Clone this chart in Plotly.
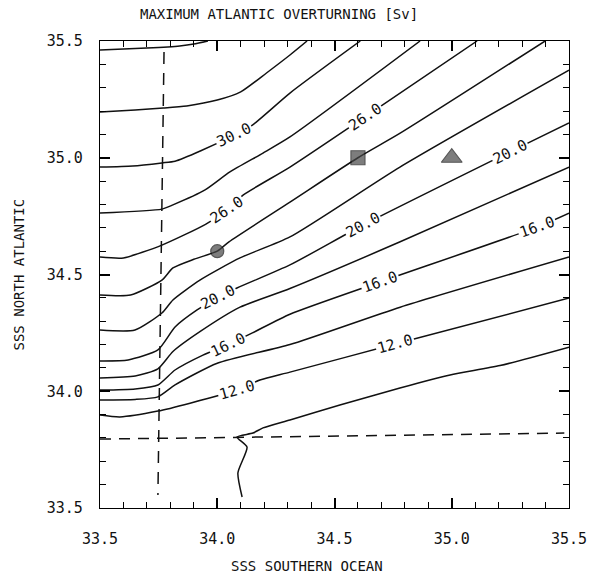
import math
import plotly.graph_objects as go

# Contour lines of maximum Atlantic overturning (Sv) in the
# (SSS Southern Ocean, SSS North Atlantic) plane, one polyline per level.
levels = [34, 32, 30, 28, 26, 24, 22, 20, 18, 16, 14, 12, 10]

c34_x = [33.5, 33.70, 33.84, 33.90, 33.96]
c34_y = [35.461, 35.470, 35.479, 35.487, 35.5]

c32_x = [33.5, 33.65, 33.77, 33.87, 34.0, 34.10, 34.21, 34.31, 34.383]
c32_y = [35.196, 35.205, 35.213, 35.222, 35.247, 35.282, 35.363, 35.440, 35.5]

c30_x = [33.5, 33.64, 33.764, 33.82, 33.93, 34.071, 34.15, 34.31, 34.61]
c30_y = [34.96, 34.965, 34.978, 34.985, 35.03, 35.097, 35.14, 35.277, 35.5]

c28_x = [33.5, 33.764, 33.811, 33.948, 34.054, 34.195, 34.31, 34.865]
c28_y = [34.763, 34.78, 34.798, 34.862, 34.939, 35.02, 35.089, 35.5]

c26_x = [33.5, 33.6, 33.764, 33.95, 34.04, 34.11, 34.31, 34.63, 35.108]
c26_y = [34.575, 34.571, 34.626, 34.715, 34.775, 34.84, 34.96, 35.175, 35.5]

c24_x = [33.5, 33.63, 33.764, 33.811, 33.90, 34.0, 34.05, 34.31, 34.6, 34.78, 35.398]
c24_y = [34.412, 34.412, 34.476, 34.528, 34.565, 34.6, 34.64, 34.81, 35.0, 35.105, 35.5]

c22_x = [33.5, 33.649, 33.764, 33.811, 33.926, 34.097, 34.31, 34.779, 35.5]
c22_y = [34.262, 34.262, 34.335, 34.391, 34.476, 34.571, 34.661, 34.96, 35.375]

c20_x = [33.5, 33.62, 33.747, 33.82, 33.914, 33.999, 34.084, 34.31, 34.622, 35.248, 35.5]
c20_y = [34.130, 34.134, 34.177, 34.275, 34.348, 34.399, 34.442, 34.541, 34.712, 35.025, 35.149]

c18_x = [33.5, 33.65, 33.747, 33.811, 33.926, 34.097, 34.31, 34.78, 35.5]
c18_y = [34.057, 34.065, 34.096, 34.17, 34.255, 34.36, 34.44, 34.64, 34.96]

c16_x = [33.5, 33.65, 33.747, 33.82, 33.939, 34.042, 34.15, 34.31, 34.694, 35.364, 35.5]
c16_y = [34.005, 34.01, 34.027, 34.091, 34.155, 34.198, 34.25, 34.33, 34.468, 34.703, 34.763]

c14_x = [33.5, 33.65, 33.747, 33.82, 34.0, 34.31, 34.78, 35.5]
c14_y = [33.963, 33.965, 33.976, 34.027, 34.12, 34.2, 34.36, 34.575]

c12_x = [33.5, 33.585, 33.747, 33.884, 34.084, 34.182, 34.31, 34.758, 35.5]
c12_y = [33.898, 33.890, 33.915, 33.949, 34.005, 34.048, 34.082, 34.202, 34.399]

c10_x = [34.106, 34.088, 34.127, 34.084, 34.152, 34.195, 34.31, 34.523, 34.779, 34.993, 35.206, 35.5]
c10_y = [33.547, 33.650, 33.761, 33.804, 33.821, 33.843, 33.877, 33.941, 34.014, 34.07, 34.11, 34.189]

contour_x = [c34_x, c32_x, c30_x, c28_x, c26_x, c24_x, c22_x, c20_x, c18_x, c16_x, c14_x, c12_x, c10_x]
contour_y = [c34_y, c32_y, c30_y, c28_y, c26_y, c24_y, c22_y, c20_y, c18_y, c16_y, c14_y, c12_y, c10_y]

# Where the in-line labels sit (SSS Southern Ocean position along each labelled level)
label_at = {
    30: [34.071],
    26: [34.04, 34.63],
    20: [34.005, 34.622, 35.248],
    16: [34.045, 34.694, 35.364],
    12: [34.084, 34.758],
}

# Present-day reference salinities (dashed)
ref_so_x = [33.773, 33.747]
ref_so_y = [35.453, 33.556]
ref_na_x = [33.5, 35.48]
ref_na_y = [33.795, 33.821]

# Individual model experiments
exp_x = [34.0, 34.6, 35.0]
exp_y = [34.6, 35.0, 35.0]
exp_symbol = ["circle", "square", "triangle-up"]
exp_size = [13, 14, 18]

x_range = [33.5, 35.5]
y_range = [33.5, 35.5]
tick_vals = [33.5, 34.0, 34.5, 35.0, 35.5]
tick_text = ["33.5", "34.0", "34.5", "35.0", "35.5"]

FONT = "DejaVu Sans Mono"
INK = "#111111"
W, H = 590, 575
M = dict(l=100, r=21, t=41, b=67)
px_x = (W - M["l"] - M["r"]) / (x_range[1] - x_range[0])
px_y = (H - M["t"] - M["b"]) / (y_range[1] - y_range[0])

fig = go.Figure()

for xs, ys in zip(contour_x, contour_y):
    fig.add_trace(go.Scatter(x=xs, y=ys, mode="lines",
                             line=dict(color=INK, width=1.5, shape="spline", smoothing=0.6),
                             hoverinfo="skip", showlegend=False))

fig.add_trace(go.Scatter(x=ref_so_x, y=ref_so_y, mode="lines",
                         line=dict(color=INK, width=1.5, dash="12px,9px"),
                         showlegend=False))
fig.add_trace(go.Scatter(x=ref_na_x, y=ref_na_y, mode="lines",
                         line=dict(color=INK, width=1.5, dash="11px,8px"),
                         showlegend=False))

fig.add_trace(go.Scatter(x=exp_x, y=exp_y, mode="markers",
                         marker=dict(symbol=exp_symbol, size=exp_size, color="#474747",
                                     line=dict(color=INK, width=1.2)),
                         showlegend=False))


def on_line(xs, ys, x0):
    """Position and local direction (degrees, screen space) of a polyline at x0."""
    for i in range(len(xs) - 1):
        if xs[i] <= x0 <= xs[i + 1]:
            f = (x0 - xs[i]) / (xs[i + 1] - xs[i])
            y0 = ys[i] + f * (ys[i + 1] - ys[i])
            dx = (xs[i + 1] - xs[i]) * px_x
            dy = (ys[i + 1] - ys[i]) * px_y
            return y0, -math.degrees(math.atan2(dy, dx))
    return ys[-1], 0.0


for lev, xs, ys in zip(levels, contour_x, contour_y):
    for x0 in label_at.get(lev, []):
        y0, ang = on_line(xs, ys, x0)
        fig.add_annotation(x=x0, y=y0, text=f"{lev:.1f}", showarrow=False,
                           textangle=ang, bgcolor="white", borderpad=1,
                           font=dict(family=FONT, size=15, color=INK))

axis_style = dict(tickvals=tick_vals, ticktext=tick_text,
                  ticks="inside", ticklen=10, tickwidth=1.5, tickcolor="#000000",
                  minor=dict(dtick=0.1, tick0=33.5, ticks="inside", ticklen=6,
                             tickwidth=1.3, tickcolor="#000000", showgrid=False),
                  showline=True, linecolor="#000000", linewidth=1.3, mirror="ticks",
                  layer="above traces",
                  showgrid=False, zeroline=False, automargin=False,
                  tickfont=dict(family=FONT, size=15, color=INK))
fig.update_xaxes(range=x_range, ticklabelstandoff=17, **axis_style)
fig.update_yaxes(range=y_range, ticklabelstandoff=13, **axis_style)

fig.add_annotation(text="MAXIMUM ATLANTIC OVERTURNING [Sv]", xref="paper", yref="paper",
                   x=(279 - M["l"]) / (W - M["l"] - M["r"]), y=1, yshift=27,
                   showarrow=False, xanchor="center", yanchor="middle",
                   font=dict(family=FONT, size=14, color=INK))
fig.add_annotation(text="SSS SOUTHERN OCEAN", xref="paper", yref="paper",
                   x=(307 - M["l"]) / (W - M["l"] - M["r"]), y=0, yshift=-58,
                   showarrow=False, xanchor="center", yanchor="middle",
                   font=dict(family=FONT, size=14, color=INK))
fig.add_annotation(text="SSS NORTH ATLANTIC", xref="paper", yref="paper",
                   x=0, xshift=-82, y=0.5, textangle=-90,
                   showarrow=False, xanchor="center", yanchor="middle",
                   font=dict(family=FONT, size=14, color=INK))

fig.update_layout(width=W, height=H, margin=M, plot_bgcolor="white",
                  paper_bgcolor="white", showlegend=False)

fig.write_html("out.html")
